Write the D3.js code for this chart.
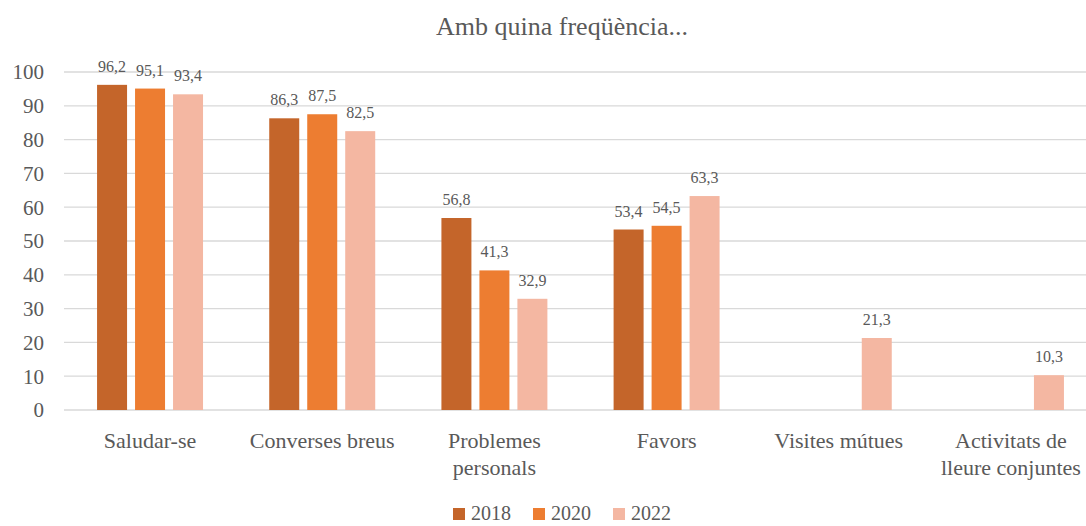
<!DOCTYPE html>
<html>
<head>
<meta charset="utf-8">
<script src="https://cdn.jsdelivr.net/npm/d3@7"></script>
<style>
  body { margin: 0; background: #fff; }
  text { font-family: "Liberation Serif", "DejaVu Serif", serif; fill: #595959; }
</style>
</head>
<body>
<script>
let categories = [["Saludar-se"], ["Converses breus"], ["Problemes", "personals"], ["Favors"], ["Visites mútues"], ["Activitats de", "lleure conjuntes"]];
let years = ["2018", "2020", "2022"];
let values2018 = [96.2, 86.3, 56.8, 53.4, null, null];
let values2020 = [95.1, 87.5, 41.3, 54.5, null, null];
let values2022 = [93.4, 82.5, 32.9, 63.3, 21.3, 10.3];
let yTicks = [0, 10, 20, 30, 40, 50, 60, 70, 80, 90, 100];
let colors = ["#C4652A", "#ED7D31", "#F4B7A2"];

let svgWidth = 1086;
let svgHeight = 526;

let svg = d3.select("body")
    .append("svg")
    .attr("width", svgWidth)
    .attr("height", svgHeight);

let margin = { top: 72, left: 64, right: -11, bottom: 116 };
let chartWidth = svgWidth - margin.left - margin.right;
let chartHeight = svgHeight - margin.top - margin.bottom;

let chartGroup = svg.append("g")
    .attr("transform", `translate(${margin.left},${margin.top})`);

let series = [values2018, values2020, values2022];
let catKeys = categories.map(c => c.join(" "));

let x0 = d3.scaleBand()
    .domain(catKeys)
    .range([0, chartWidth])
    .paddingInner(0.3845)
    .paddingOuter(0.192);

let x1 = d3.scaleBand()
    .domain(years)
    .range([0, x0.bandwidth()])
    .paddingInner(0.2105);

let y = d3.scaleLinear()
    .domain([0, 100])
    .range([chartHeight, 0]);

// gridlines
chartGroup.append("g")
    .selectAll("line")
    .data(yTicks)
    .enter()
    .append("line")
    .attr("x1", 0)
    .attr("x2", chartWidth)
    .attr("y1", d => y(d))
    .attr("y2", d => y(d))
    .attr("stroke", "#D9D9D9")
    .attr("stroke-width", 1.3);

// y tick labels
let leftAxis = d3.axisLeft(y).tickValues(yTicks).tickSize(0).tickPadding(20);
let yAxisG = chartGroup.append("g").call(leftAxis);
yAxisG.select(".domain").remove();
yAxisG.selectAll("text")
    .style("font-size", "21px")
    .attr("dy", "0.33em")
    .attr("fill", "#595959");

// bars
years.forEach(function (yr, i) {
    let data = series[i].map((v, j) => ({ cat: catKeys[j], v: v })).filter(d => d.v !== null);
    chartGroup.append("g")
        .selectAll("rect")
        .data(data)
        .enter()
        .append("rect")
        .attr("x", d => x0(d.cat) + x1(yr))
        .attr("y", d => y(d.v))
        .attr("width", x1.bandwidth())
        .attr("height", d => y(0) - y(d.v))
        .attr("fill", colors[i]);

    chartGroup.append("g")
        .selectAll("text")
        .data(data)
        .enter()
        .append("text")
        .attr("x", d => x0(d.cat) + x1(yr) + x1.bandwidth() / 2)
        .attr("y", d => y(d.v) - 13)
        .attr("text-anchor", "middle")
        .style("font-size", "16px")
        .text(d => String(d.v).replace(".", ","));
});

// category labels
categories.forEach(function (lines, j) {
    let t = chartGroup.append("text")
        .attr("x", x0(catKeys[j]) + x0.bandwidth() / 2)
        .attr("y", chartHeight + 38)
        .attr("text-anchor", "middle")
        .style("font-size", "22px");
    lines.forEach(function (ln, k) {
        t.append("tspan")
            .attr("x", x0(catKeys[j]) + x0.bandwidth() / 2)
            .attr("dy", k === 0 ? 0 : 27)
            .text(ln);
    });
});

// title
svg.append("text")
    .attr("x", 562)
    .attr("y", 35)
    .attr("text-anchor", "middle")
    .style("font-size", "26px")
    .text("Amb quina freqüència...");

// legend
let legend = svg.append("g").attr("transform", "translate(453,508)");
years.forEach(function (yr, i) {
    let g = legend.append("g").attr("transform", `translate(${i * 80},0)`);
    g.append("rect")
        .attr("width", 12)
        .attr("height", 12)
        .attr("fill", colors[i]);
    g.append("text")
        .attr("x", 18)
        .attr("y", 12)
        .style("font-size", "20px")
        .text(yr);
});
</script>
</body>
</html>
